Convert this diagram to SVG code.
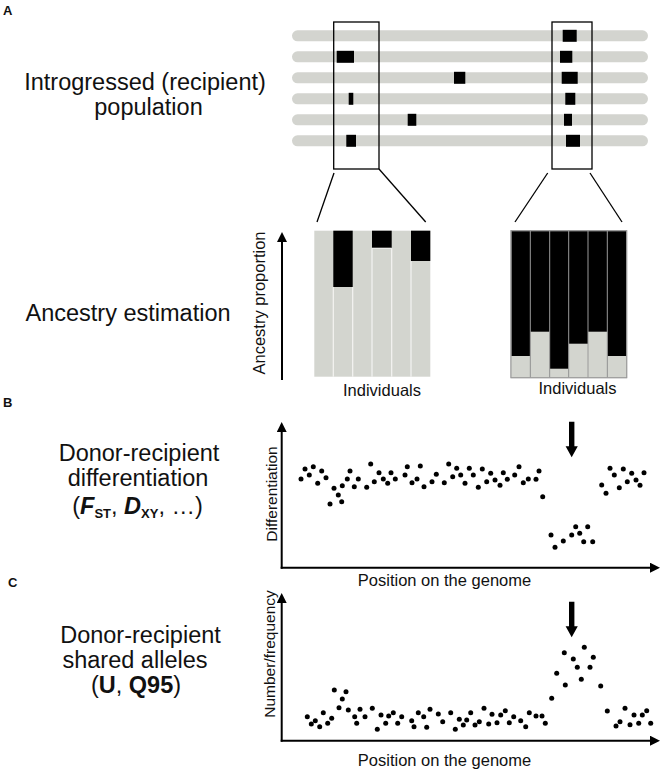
<svg xmlns="http://www.w3.org/2000/svg" width="666" height="775" viewBox="0 0 666 775">
<defs>
<style>
text{font-family:"Liberation Sans",Arial,Helvetica,sans-serif;fill:#111}
.big{font-size:23.5px}
.ax{font-size:16.5px}
.ax2{font-size:15.5px}
.panel{font-size:13px;font-weight:bold}
.chr{fill:#d3d4cf}
.blk{fill:#000}
.box{fill:none;stroke:#000;stroke-width:1.3}
.zl{stroke:#000;stroke-width:1.3;fill:none}
.axis{stroke:#000;stroke-width:2;fill:none}
.dots circle{fill:#000}
.gray{fill:#d3d5cf}
.sepw{stroke:#f4f4f2;stroke-width:1.2}
.sepg{stroke:#9a9a9a;stroke-width:1}
</style>
<marker id="ah" markerUnits="userSpaceOnUse" markerWidth="10" markerHeight="10" viewBox="0 0 10 10" refX="2" refY="5" orient="auto">
<path d="M0,0 L10,5 L0,10 z" fill="#000"/>
</marker>
<symbol id="downarrow" overflow="visible">
<path d="M569,0 H574.4 V24.5 H577.8 L571.7,35.5 L565.6,24.5 H569 Z" fill="#000"/>
</symbol>
</defs>
<rect width="666" height="775" fill="#fff"/>

<g id="labels">
<text class="panel" x="3" y="15">A</text>
<text class="panel" x="3" y="407">B</text>
<text class="panel" x="8" y="587">C</text>
<text class="big" x="145" y="90" text-anchor="middle">Introgressed (recipient)</text>
<text class="big" x="148.5" y="115" text-anchor="middle">population</text>
<text class="big" x="128" y="321" text-anchor="middle">Ancestry estimation</text>
<text class="big" x="139" y="461" text-anchor="middle">Donor-recipient</text>
<text class="big" x="138" y="486" text-anchor="middle">differentiation</text>
<text class="big" x="137.5" y="514" text-anchor="middle">(<tspan font-weight="bold" font-style="italic">F</tspan><tspan font-weight="bold" font-size="13" dy="4">ST</tspan><tspan dy="-4">, </tspan><tspan font-weight="bold" font-style="italic">D</tspan><tspan font-weight="bold" font-size="13" dy="4">XY</tspan><tspan dy="-4">, …)</tspan></text>
<text class="big" x="140.5" y="643" text-anchor="middle">Donor-recipient</text>
<text class="big" x="135" y="668" text-anchor="middle">shared alleles</text>
<text class="big" x="136" y="693" text-anchor="middle">(<tspan font-weight="bold">U</tspan>, <tspan font-weight="bold">Q95</tspan>)</text>
</g>

<g id="chromosomes">
<rect class="chr" x="292" y="30.3" width="356" height="11" rx="5.5"/>
<rect class="chr" x="292" y="51.3" width="356" height="11" rx="5.5"/>
<rect class="chr" x="292" y="72.3" width="356" height="11" rx="5.5"/>
<rect class="chr" x="292" y="93.3" width="356" height="11" rx="5.5"/>
<rect class="chr" x="292" y="114.3" width="356" height="11" rx="5.5"/>
<rect class="chr" x="292" y="135.3" width="356" height="11" rx="5.5"/>
<rect class="blk" x="562.7" y="29.8" width="14" height="12"/>
<rect class="blk" x="336.7" y="50.8" width="17.3" height="12"/>
<rect class="blk" x="560" y="50.8" width="12.3" height="12"/>
<rect class="blk" x="454" y="71.8" width="11.3" height="12"/>
<rect class="blk" x="561.7" y="71.8" width="16" height="12"/>
<rect class="blk" x="348.7" y="92.8" width="4.6" height="12"/>
<rect class="blk" x="565.3" y="92.8" width="10" height="12"/>
<rect class="blk" x="407.7" y="113.8" width="8.6" height="12"/>
<rect class="blk" x="564" y="113.8" width="8" height="12"/>
<rect class="blk" x="346.3" y="134.8" width="9.7" height="12"/>
<rect class="blk" x="566" y="134.8" width="14" height="12"/>
</g>

<g id="window-left"><rect class="box" x="333.7" y="22" width="45.3" height="147"/></g>
<g id="window-right"><rect class="box" x="552" y="22" width="40" height="147"/></g>

<g id="ancestry-left">
<rect class="gray" x="314.3" y="230.7" width="116" height="146"/>
<rect class="blk" x="333.3" y="230.7" width="19.4" height="56.3"/>
<rect class="blk" x="372" y="230.7" width="19.7" height="17.6"/>
<rect class="blk" x="411" y="230.7" width="19.3" height="30.3"/>
<line class="sepw" x1="333.3" y1="287" x2="333.3" y2="376.7"/>
<line class="sepw" x1="352.7" y1="287" x2="352.7" y2="376.7"/>
<line class="sepw" x1="372" y1="248.3" x2="372" y2="376.7"/>
<line class="sepw" x1="391.7" y1="248.3" x2="391.7" y2="376.7"/>
<line class="sepw" x1="411" y1="261" x2="411" y2="376.7"/>
<line class="sepw" x1="372" y1="248.3" x2="391.7" y2="248.3"/>
<text class="ax" x="382" y="396" text-anchor="middle">Individuals</text>
</g>

<g id="ancestry-right">
<rect x="511" y="230.7" width="115.7" height="147" fill="#000" stroke="#9a9a9a" stroke-width="1"/>
<rect class="gray" x="511" y="356" width="19.3" height="21.7"/>
<rect class="gray" x="530.3" y="331.7" width="19.4" height="46"/>
<rect class="gray" x="549.7" y="368.7" width="19" height="9"/>
<rect class="gray" x="568.7" y="343.7" width="19.3" height="34"/>
<rect class="gray" x="588" y="331.7" width="19.3" height="46"/>
<rect class="gray" x="607.3" y="356" width="19.4" height="21.7"/>
<line class="sepg" x1="530.3" y1="230.7" x2="530.3" y2="377.7"/>
<line class="sepg" x1="549.7" y1="230.7" x2="549.7" y2="377.7"/>
<line class="sepg" x1="568.7" y1="230.7" x2="568.7" y2="377.7"/>
<line class="sepg" x1="588" y1="230.7" x2="588" y2="377.7"/>
<line class="sepg" x1="607.3" y1="230.7" x2="607.3" y2="377.7"/>
<rect x="511" y="230.7" width="115.7" height="147" fill="none" stroke="#9a9a9a" stroke-width="1"/>
<text class="ax" x="577.5" y="394" text-anchor="middle">Individuals</text>
</g>

<g id="connectors">
<line class="zl" x1="334" y1="173" x2="317" y2="222"/>
<line class="zl" x1="379" y1="169" x2="425.7" y2="222"/>
<line class="zl" x1="547.7" y1="173" x2="515" y2="222"/>
<line class="zl" x1="590" y1="173" x2="622" y2="222"/>
<line class="axis" x1="282" y1="380" x2="282" y2="240" marker-end="url(#ah)"/>
<line class="axis" x1="281.7" y1="568.7" x2="281.7" y2="430" marker-end="url(#ah)"/>
<line class="axis" x1="280.7" y1="567.7" x2="652" y2="567.7" marker-end="url(#ah)"/>
<line class="axis" x1="281.7" y1="741.7" x2="281.7" y2="601" marker-end="url(#ah)"/>
<line class="axis" x1="280.7" y1="740.7" x2="652" y2="740.7" marker-end="url(#ah)"/>
<use href="#downarrow" y="421.7"/>
<use href="#downarrow" y="601.7"/>
</g>

<g id="axis-labels">
<text class="ax" transform="translate(265,303) rotate(-90)" text-anchor="middle">Ancestry proportion</text>
<text class="ax2" transform="translate(276.5,494) rotate(-90)" text-anchor="middle">Differentiation</text>
<text class="ax2" transform="translate(274.5,654) rotate(-90)" text-anchor="middle">Number/frequency</text>
<text class="ax" x="444.5" y="585.5" text-anchor="middle">Position on the genome</text>
<text class="ax" x="444.5" y="766" text-anchor="middle">Position on the genome</text>
</g>

<g id="plot-B" class="dots">
<circle cx="301.0" cy="479.0" r="2.5"/><circle cx="305.0" cy="469.0" r="2.5"/><circle cx="309.3" cy="475.0" r="2.5"/><circle cx="313.3" cy="466.7" r="2.5"/><circle cx="317.7" cy="483.3" r="2.5"/><circle cx="321.7" cy="471.0" r="2.5"/><circle cx="326.0" cy="477.7" r="2.5"/><circle cx="330.0" cy="504.0" r="2.5"/><circle cx="334.0" cy="488.3" r="2.5"/><circle cx="338.3" cy="495.0" r="2.5"/><circle cx="341.7" cy="501.7" r="2.5"/><circle cx="342.3" cy="485.7" r="2.5"/><circle cx="347.3" cy="479.0" r="2.5"/><circle cx="350.0" cy="471.0" r="2.5"/><circle cx="354.3" cy="486.7" r="2.5"/><circle cx="358.3" cy="479.0" r="2.5"/><circle cx="366.7" cy="487.3" r="2.5"/><circle cx="370.7" cy="464.0" r="2.5"/><circle cx="374.3" cy="481.7" r="2.5"/><circle cx="379.0" cy="472.7" r="2.5"/><circle cx="383.3" cy="479.0" r="2.5"/><circle cx="387.7" cy="483.3" r="2.5"/><circle cx="391.0" cy="472.7" r="2.5"/><circle cx="395.3" cy="479.0" r="2.5"/><circle cx="405.0" cy="475.0" r="2.5"/><circle cx="407.3" cy="466.7" r="2.5"/><circle cx="412.0" cy="482.7" r="2.5"/><circle cx="417.0" cy="479.0" r="2.5"/><circle cx="420.3" cy="466.0" r="2.5"/><circle cx="424.0" cy="486.7" r="2.5"/><circle cx="432.0" cy="481.7" r="2.5"/><circle cx="436.3" cy="474.3" r="2.5"/><circle cx="444.3" cy="482.7" r="2.5"/><circle cx="448.7" cy="464.0" r="2.5"/><circle cx="452.7" cy="476.7" r="2.5"/><circle cx="456.7" cy="468.3" r="2.5"/><circle cx="460.7" cy="475.0" r="2.5"/><circle cx="465.0" cy="483.3" r="2.5"/><circle cx="469.3" cy="468.3" r="2.5"/><circle cx="473.3" cy="475.0" r="2.5"/><circle cx="478.3" cy="487.3" r="2.5"/><circle cx="482.3" cy="469.0" r="2.5"/><circle cx="486.7" cy="481.7" r="2.5"/><circle cx="490.7" cy="473.3" r="2.5"/><circle cx="495.0" cy="480.0" r="2.5"/><circle cx="500.0" cy="485.3" r="2.5"/><circle cx="503.3" cy="472.7" r="2.5"/><circle cx="507.3" cy="479.3" r="2.5"/><circle cx="514.7" cy="475.0" r="2.5"/><circle cx="519.0" cy="466.7" r="2.5"/><circle cx="523.3" cy="482.7" r="2.5"/><circle cx="528.3" cy="479.0" r="2.5"/><circle cx="536.0" cy="479.3" r="2.5"/><circle cx="539.0" cy="471.0" r="2.5"/><circle cx="542.7" cy="496.7" r="2.5"/><circle cx="551.0" cy="535.0" r="2.5"/><circle cx="555.0" cy="547.3" r="2.5"/><circle cx="563.3" cy="541.0" r="2.5"/><circle cx="571.7" cy="535.0" r="2.5"/><circle cx="575.7" cy="526.7" r="2.5"/><circle cx="579.7" cy="533.3" r="2.5"/><circle cx="583.7" cy="541.7" r="2.5"/><circle cx="587.7" cy="526.7" r="2.5"/><circle cx="592.7" cy="541.7" r="2.5"/><circle cx="601.7" cy="485.0" r="2.5"/><circle cx="606.0" cy="493.3" r="2.5"/><circle cx="610.0" cy="468.3" r="2.5"/><circle cx="614.3" cy="475.0" r="2.5"/><circle cx="619.3" cy="487.7" r="2.5"/><circle cx="623.3" cy="469.0" r="2.5"/><circle cx="627.3" cy="481.7" r="2.5"/><circle cx="631.7" cy="473.3" r="2.5"/><circle cx="636.0" cy="480.0" r="2.5"/><circle cx="640.0" cy="485.3" r="2.5"/><circle cx="644.0" cy="472.7" r="2.5"/>
</g>

<g id="plot-C" class="dots">
<circle cx="307.3" cy="716.7" r="2.5"/><circle cx="311.3" cy="724.0" r="2.5"/><circle cx="315.3" cy="720.7" r="2.5"/><circle cx="319.7" cy="726.7" r="2.5"/><circle cx="323.3" cy="712.7" r="2.5"/><circle cx="327.7" cy="723.3" r="2.5"/><circle cx="331.7" cy="718.3" r="2.5"/><circle cx="334.3" cy="690.0" r="2.5"/><circle cx="339.0" cy="707.7" r="2.5"/><circle cx="342.3" cy="699.0" r="2.5"/><circle cx="346.0" cy="691.7" r="2.5"/><circle cx="348.3" cy="710.0" r="2.5"/><circle cx="354.7" cy="716.7" r="2.5"/><circle cx="356.7" cy="723.3" r="2.5"/><circle cx="360.0" cy="709.3" r="2.5"/><circle cx="365.0" cy="716.7" r="2.5"/><circle cx="372.3" cy="708.3" r="2.5"/><circle cx="377.3" cy="729.3" r="2.5"/><circle cx="381.0" cy="715.0" r="2.5"/><circle cx="385.7" cy="723.3" r="2.5"/><circle cx="388.7" cy="716.0" r="2.5"/><circle cx="393.3" cy="712.7" r="2.5"/><circle cx="397.7" cy="723.3" r="2.5"/><circle cx="401.7" cy="716.7" r="2.5"/><circle cx="411.7" cy="720.7" r="2.5"/><circle cx="414.0" cy="726.7" r="2.5"/><circle cx="418.3" cy="712.7" r="2.5"/><circle cx="423.7" cy="716.7" r="2.5"/><circle cx="426.7" cy="727.3" r="2.5"/><circle cx="430.0" cy="709.3" r="2.5"/><circle cx="438.3" cy="714.0" r="2.5"/><circle cx="442.7" cy="721.7" r="2.5"/><circle cx="450.7" cy="712.7" r="2.5"/><circle cx="455.3" cy="729.3" r="2.5"/><circle cx="459.3" cy="719.3" r="2.5"/><circle cx="463.3" cy="725.0" r="2.5"/><circle cx="466.7" cy="720.0" r="2.5"/><circle cx="470.7" cy="712.7" r="2.5"/><circle cx="475.0" cy="725.0" r="2.5"/><circle cx="479.3" cy="721.7" r="2.5"/><circle cx="484.0" cy="708.3" r="2.5"/><circle cx="488.7" cy="724.0" r="2.5"/><circle cx="492.0" cy="714.3" r="2.5"/><circle cx="497.0" cy="722.7" r="2.5"/><circle cx="500.7" cy="715.0" r="2.5"/><circle cx="505.3" cy="710.7" r="2.5"/><circle cx="509.3" cy="722.7" r="2.5"/><circle cx="513.7" cy="716.7" r="2.5"/><circle cx="520.7" cy="720.7" r="2.5"/><circle cx="525.7" cy="726.7" r="2.5"/><circle cx="529.3" cy="712.7" r="2.5"/><circle cx="536.0" cy="716.0" r="2.5"/><circle cx="542.0" cy="716.0" r="2.5"/><circle cx="545.3" cy="723.3" r="2.5"/><circle cx="551.7" cy="698.3" r="2.5"/><circle cx="556.7" cy="673.3" r="2.5"/><circle cx="564.3" cy="652.7" r="2.5"/><circle cx="565.3" cy="685.0" r="2.5"/><circle cx="573.3" cy="659.0" r="2.5"/><circle cx="577.3" cy="667.3" r="2.5"/><circle cx="581.3" cy="679.3" r="2.5"/><circle cx="584.3" cy="647.3" r="2.5"/><circle cx="590.0" cy="667.3" r="2.5"/><circle cx="593.3" cy="657.3" r="2.5"/><circle cx="600.7" cy="686.0" r="2.5"/><circle cx="607.3" cy="711.0" r="2.5"/><circle cx="616.0" cy="726.0" r="2.5"/><circle cx="620.0" cy="721.7" r="2.5"/><circle cx="625.0" cy="708.3" r="2.5"/><circle cx="630.0" cy="724.7" r="2.5"/><circle cx="634.0" cy="715.0" r="2.5"/><circle cx="638.7" cy="723.3" r="2.5"/><circle cx="642.3" cy="715.0" r="2.5"/><circle cx="646.7" cy="710.7" r="2.5"/><circle cx="650.7" cy="723.3" r="2.5"/>
</g>
</svg>
